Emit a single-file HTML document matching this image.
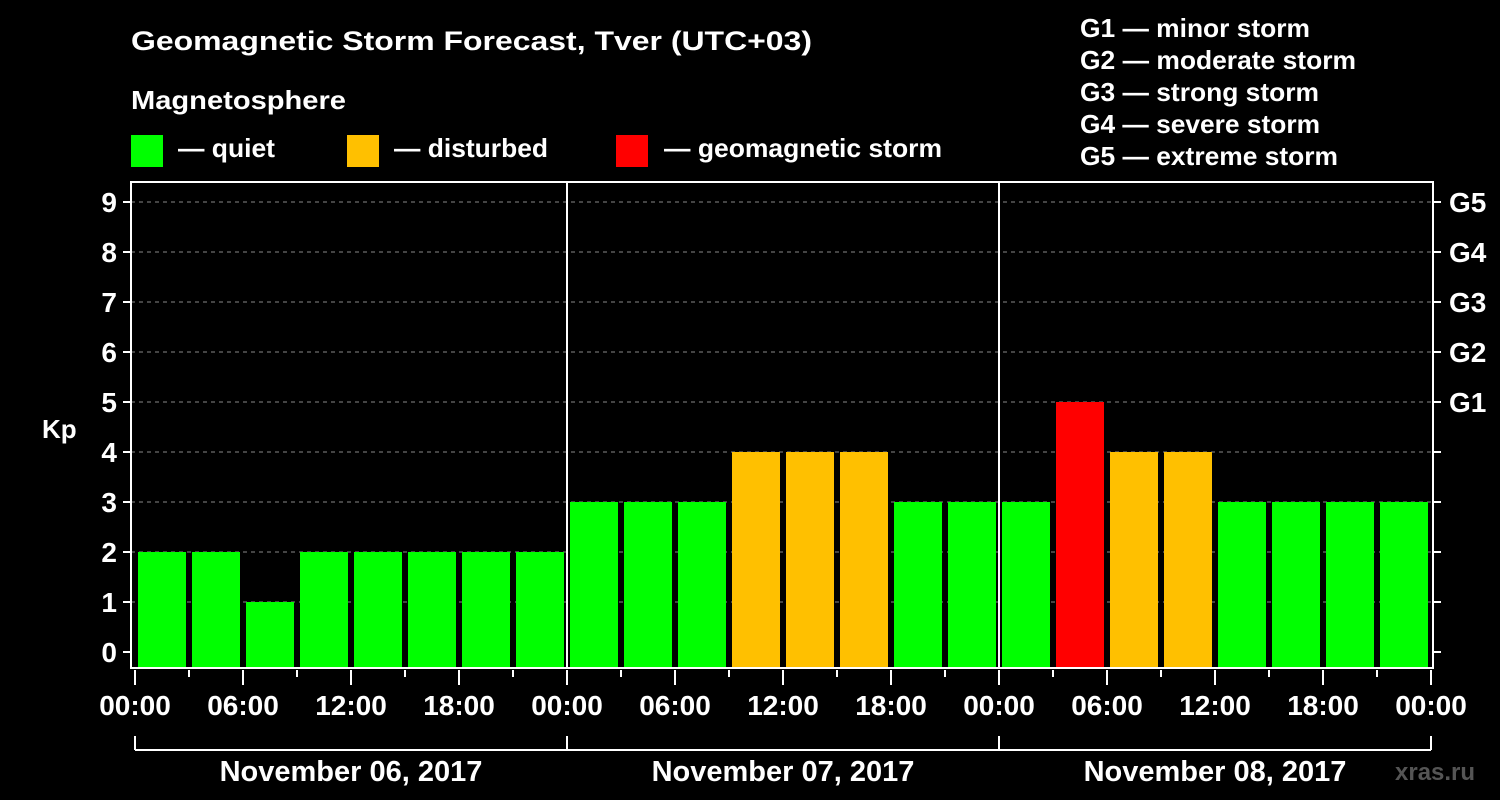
<!DOCTYPE html>
<html><head><meta charset="utf-8"><style>
body{margin:0;background:#000;}
svg{display:block;font-family:"Liberation Sans",Arial,sans-serif;font-weight:bold;}
</style></head><body>
<svg width="1500" height="800">
<rect width="1500" height="800" fill="#000"/>
<text x="131" y="50" fill="#fff" font-size="27" textLength="681" lengthAdjust="spacingAndGlyphs">Geomagnetic Storm Forecast, Tver (UTC+03)</text>
<text x="131" y="109" fill="#fff" font-size="26" textLength="215" lengthAdjust="spacingAndGlyphs">Magnetosphere</text>
<g><rect x="131" y="135" width="32" height="32" fill="#00ff00"/><text x="178" y="157" fill="#fff" font-size="26" textLength="97" lengthAdjust="spacingAndGlyphs">— quiet</text></g>
<g><rect x="347" y="135" width="32" height="32" fill="#ffc000"/><text x="394" y="157" fill="#fff" font-size="26" textLength="154" lengthAdjust="spacingAndGlyphs">— disturbed</text></g>
<g><rect x="616" y="135" width="32" height="32" fill="#ff0000"/><text x="664" y="157" fill="#fff" font-size="26" textLength="278" lengthAdjust="spacingAndGlyphs">— geomagnetic storm</text></g>
<g fill="#fff" font-size="26">
<text x="1080" y="37" textLength="230" lengthAdjust="spacingAndGlyphs">G1 — minor storm</text>
<text x="1080" y="69" textLength="276" lengthAdjust="spacingAndGlyphs">G2 — moderate storm</text>
<text x="1080" y="101" textLength="239" lengthAdjust="spacingAndGlyphs">G3 — strong storm</text>
<text x="1080" y="133" textLength="240" lengthAdjust="spacingAndGlyphs">G4 — severe storm</text>
<text x="1080" y="165" textLength="258" lengthAdjust="spacingAndGlyphs">G5 — extreme storm</text>
</g>
<text x="42" y="438" fill="#fff" font-size="26">Kp</text>
<text x="1395" y="780" fill="#555" font-size="24">xras.ru</text>
<g id="grid"></g>
<g id="bars"></g>
<g id="axes"></g>
</svg>
<script>
const values=[2,2,1,2,2,2,2,2, 3,3,3,4,4,4,3,3, 3,5,4,4,3,3,3,3];
const dayLabels=["November 06, 2017","November 07, 2017","November 08, 2017"];
const gLabels=["G1","G2","G3","G4","G5"];
const NS="http://www.w3.org/2000/svg";
const x0=135,slot=54,yb=652,unit=50,plotTop=182,plotBottom=668,L=131,R=1433;
const X=i=>x0+i*slot, Y=v=>yb-v*unit;
function mk(tag,attrs,parent,text){const e=document.createElementNS(NS,tag);for(const k in attrs)e.setAttribute(k,attrs[k]);if(text!=null)e.textContent=text;parent.appendChild(e);return e;}
const grid=document.getElementById('grid'),bars=document.getElementById('bars'),axes=document.getElementById('axes');
for(let v=1;v<=9;v++){const l=mk('line',{x1:L,x2:R,y1:Y(v),y2:Y(v),stroke:'#888','stroke-dasharray':'4,4','stroke-width':1},grid);

}
values.forEach((v,i)=>{const c=v>=5?'#ff0000':(v>=4?'#ffc000':'#00ff00');
const r=mk('rect',{x:X(i)+3,y:Y(v),width:slot-6,height:plotBottom-1-Y(v),fill:c},bars);

});
mk('rect',{x:L,y:plotTop,width:R-L,height:plotBottom-plotTop,fill:'none',stroke:'#fff','stroke-width':2},axes);
for(let d=1;d<3;d++)mk('line',{x1:X(d*8),x2:X(d*8),y1:plotTop,y2:plotBottom,stroke:'#fff','stroke-width':2},axes);
for(let v=0;v<=9;v++){mk('line',{x1:L-8,x2:L,y1:Y(v),y2:Y(v),stroke:'#fff','stroke-width':2},axes);
mk('line',{x1:R,x2:R+8,y1:Y(v),y2:Y(v),stroke:'#fff','stroke-width':2},axes);
const t=mk('text',{x:L-14,y:Y(v)+10,fill:'#fff','font-size':28,'text-anchor':'end'},axes,String(v));

}
gLabels.forEach((g,i)=>{const t=mk('text',{x:R+16,y:Y(i+5)+10,fill:'#fff','font-size':28},axes,g);

});
for(let i=0;i<=24;i++){const major=i%2===0;
mk('line',{x1:X(i),x2:X(i),y1:670,y2:major?685:677,stroke:'#fff','stroke-width':2},axes);
if(major){const h=(i%8)*3;const t=mk('text',{x:X(i),y:715,fill:'#fff','font-size':28,'text-anchor':'middle'},axes,(h<10?'0':'')+h+':00');

}}
mk('line',{x1:X(0),x2:X(24),y1:750,y2:750,stroke:'#fff','stroke-width':2},axes);
for(let d=0;d<=3;d++)mk('line',{x1:X(d*8),x2:X(d*8),y1:736,y2:750,stroke:'#fff','stroke-width':2},axes);
dayLabels.forEach((s,d)=>{const t=mk('text',{x:X(d*8+4),y:781,fill:'#fff','font-size':29,'text-anchor':'middle'},axes,s);

});
</script>
</body></html>
